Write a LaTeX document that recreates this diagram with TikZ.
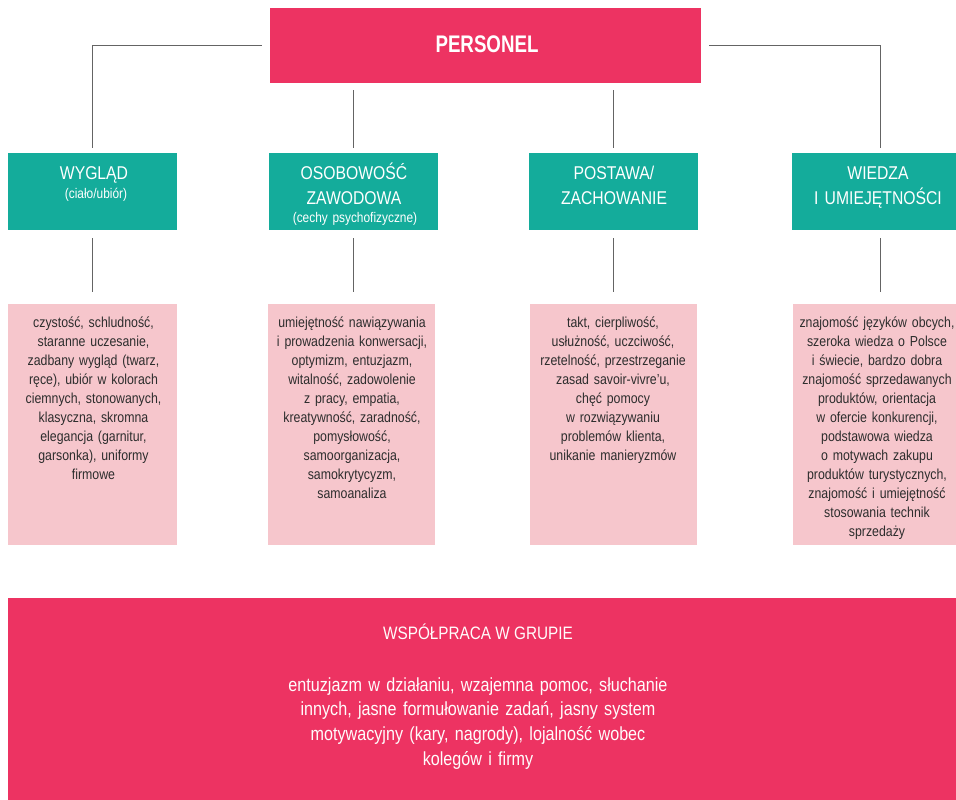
\documentclass[tikz,border=0pt]{standalone}
\usepackage{fontspec}
\setmainfont{Liberation Sans}[FakeStretch=0.85]
\newfontfamily\persfont{Liberation Sans}[FakeStretch=0.78]
\definecolor{redA}{RGB}{237,51,98}
\definecolor{tealA}{RGB}{20,172,155}
\definecolor{pinkA}{RGB}{246,198,204}
\definecolor{txtA}{RGB}{45,45,45}
\definecolor{lineA}{RGB}{100,100,100}
\begin{document}
\begin{tikzpicture}[x=1pt,y=-1pt,
  redbox/.style={fill=redA,draw=none,inner sep=0,minimum height=#1},
  tealbox/.style={fill=tealA,draw=none,inner sep=0,minimum height=77pt,minimum width=#1},
  pinkbox/.style={fill=pinkA,draw=none,inner sep=0,minimum height=241pt,minimum width=#1},
  conn/.style={draw=lineA,line width=0.9pt},
  hdtext/.style={text=white,font=\fontsize{18.5}{25}\selectfont,align=center,inner sep=0,text width=180pt,anchor=base},
  subtext/.style={text=white,font=\fontsize{14}{16}\selectfont,align=center,inner sep=0,text width=180pt,anchor=base},
  pinktext/.style={text=txtA,font=\fontsize{14.5}{19}\selectfont,align=center,inner sep=0,text width=180pt,anchor=base},
  bottext/.style={text=white!95!pink,font=\fontsize{19}{24.7}\selectfont,align=center,inner sep=0,text width=520pt,anchor=base}
]
\useasboundingbox (0,0) rectangle (956,800);

% top box
\node[redbox=75pt,minimum width=431pt] (pers) at (485.5,45.5) {};
\node[text=white,font=\persfont\bfseries\fontsize{24}{28}\selectfont,inner sep=0,anchor=base] (perst) at (487,53) {PERSONEL};

% teal boxes
\node[tealbox=169pt] (t1) at (92.5,191.5) {};
\node[tealbox=169pt] (t2) at (353.5,191.5) {};
\node[tealbox=169pt] (t3) at (613.5,191.5) {};
\node[tealbox=176pt] (t4) at (880,191.5) {};

\node[hdtext] (h1) at (94,179) {WYGLĄD};
\node[subtext] (s1) at (96,198) {(ciało/ubiór)};
\node[hdtext] (h2) at (354,179) {OSOBOWOŚĆ\\ZAWODOWA};
\node[subtext] (s2) at (355,222.5) {(cechy psychofizyczne)};
\node[hdtext] (h3) at (614,179) {POSTAWA/\\ZACHOWANIE};
\node[hdtext] (h4) at (878,179) {WIEDZA\\I UMIEJĘTNOŚCI};

% pink boxes
\node[pinkbox=169pt] (p1) at (92.5,424.5) {};
\node[pinkbox=167pt] (p2) at (351.5,424.5) {};
\node[pinkbox=167pt] (p3) at (613.5,424.5) {};
\node[pinkbox=174pt] (p4) at (880,424.5) {};

\node[pinktext] (q1) at (93.5,327) {czystość, schludność,\\staranne uczesanie,\\zadbany wygląd (twarz,\\ręce), ubiór w kolorach\\ciemnych, stonowanych,\\klasyczna, skromna\\elegancja (garnitur,\\garsonka), uniformy\\firmowe};
\node[pinktext] (q2) at (352,327) {umiejętność nawiązywania\\i prowadzenia konwersacji,\\optymizm, entuzjazm,\\witalność, zadowolenie\\z pracy, empatia,\\kreatywność, zaradność,\\pomysłowość,\\samoorganizacja,\\samokrytycyzm,\\samoanaliza};
\node[pinktext] (q3) at (613,327) {takt, cierpliwość,\\usłużność, uczciwość,\\rzetelność, przestrzeganie\\zasad savoir-vivre’u,\\chęć pomocy\\w rozwiązywaniu\\problemów klienta,\\unikanie manieryzmów};
\node[pinktext] (q4) at (877,327) {znajomość języków obcych,\\szeroka wiedza o Polsce\\i świecie, bardzo dobra\\znajomość sprzedawanych\\produktów, orientacja\\w ofercie konkurencji,\\podstawowa wiedza\\o motywach zakupu\\produktów turystycznych,\\znajomość i umiejętność\\stosowania technik\\sprzedaży};

% bottom box
\node[redbox=207pt,minimum width=952pt] (bot) at (484,701.5) {};
\node[text=white!95!pink,font=\fontsize{18}{22}\selectfont,inner sep=0,anchor=base] (bott) at (478,639.5) {WSPÓŁPRACA W GRUPIE};
\node[bottext] (botb) at (478,691) {entuzjazm w działaniu, wzajemna pomoc, słuchanie\\innych, jasne formułowanie zadań, jasny system\\motywacyjny (kary, nagrody), lojalność wobec\\kolegów i firmy};

% connectors
\coordinate (pl) at ([xshift=-8pt]pers.west);
\coordinate (pr) at ([xshift=8pt]pers.east);
\draw[conn] (pl) -| ([yshift=5pt]t1.north);
\draw[conn] (pr) -| ([yshift=5pt]t4.north);
\draw[conn] ([yshift=-7pt]pers.south -| t2.north) -- ([yshift=5pt]t2.north);
\draw[conn] ([yshift=-7pt]pers.south -| t3.north) -- ([yshift=5pt]t3.north);
\draw[conn] ([yshift=-8pt]t1.south) -- ([yshift=12pt]p1.north -| t1.south);
\draw[conn] ([yshift=-8pt]t2.south) -- ([yshift=12pt]p2.north -| t2.south);
\draw[conn] ([yshift=-8pt]t3.south) -- ([yshift=12pt]p3.north -| t3.south);
\draw[conn] ([yshift=-8pt]t4.south) -- ([yshift=12pt]p4.north -| t4.south);
\end{tikzpicture}
\end{document}
